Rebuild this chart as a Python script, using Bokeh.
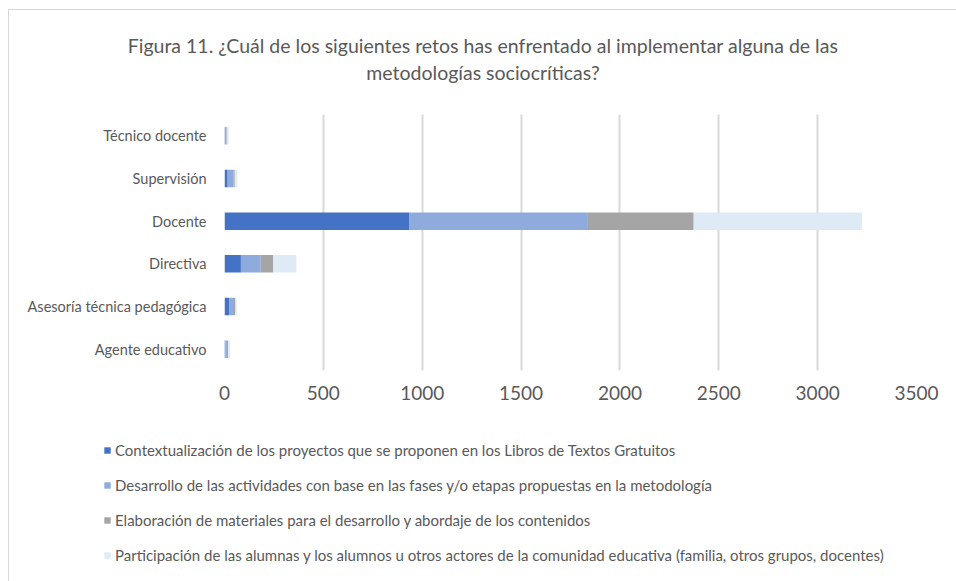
from bokeh.plotting import figure
from bokeh.layouts import column
from bokeh.models import Range1d, FactorRange, Legend, LegendItem, SingleIntervalTicker, Label
from bokeh.embed import file_html
from bokeh.resources import INLINE

categories = ["Agente educativo", "Asesoría técnica pedagógica", "Directiva",
              "Docente", "Supervisión", "Técnico docente"]
series_names = [
    "Contextualización de los proyectos que se proponen en los Libros de Textos Gratuitos",
    "Desarrollo de las actividades con base en las fases y/o etapas propuestas en la metodología",
    "Elaboración de materiales para el desarrollo y abordaje de los contenidos",
    "Participación de las alumnas y los alumnos u otros actores de la comunidad educativa (familia, otros grupos, docentes)",
]
contextualizacion = [4, 23, 83, 936, 16, 2]
desarrollo = [8, 25, 100, 898, 29, 7]
elaboracion = [6, 7, 64, 539, 7, 3]
participacion = [10, 7, 116, 851, 13, 10]
colors = ["#4472C4", "#8FAADC", "#A5A5A5", "#DEEBF7"]
x_ticks_interval = 500
x_max = 3500
title_lines = ["Figura 11. ¿Cuál de los siguientes retos has enfrentado al implementar alguna de las",
               "metodologías sociocríticas?"]

keys = ["s0", "s1", "s2", "s3"]
data = {"cat": categories, "s0": contextualizacion, "s1": desarrollo,
        "s2": elaboracion, "s3": participacion}

TXT = "#595959"
FONT = "Lato"
W = 947

xr = Range1d(0, x_max)
yr = FactorRange(*categories, range_padding=0)

# ---- title strip
p0 = figure(width=W, height=104, output_backend="svg", toolbar_location=None,
            x_axis_type=None, y_axis_type=None,
            min_border=0, min_border_left=0, min_border_right=0,
            min_border_top=0, min_border_bottom=0)
p0.frame_align = False
p0.grid.visible = False
p0.outline_line_color = None
for txt, ypos in zip(title_lines, [69, 42]):
    p0.add_layout(Label(x=473.5, y=ypos, x_units="screen", y_units="screen",
                        text=txt, text_align="center", text_baseline="middle",
                        text_font=FONT, text_font_size="19.5px", text_color=TXT))

# ---- main chart
p = figure(width=W, height=301, output_backend="svg", toolbar_location=None,
           y_range=yr, x_range=xr,
           min_border_left=215, min_border_right=40, min_border_top=0,
           min_border_bottom=45)
p.frame_align = False

renderers = p.hbar_stack(keys, y="cat", height=0.41, color=colors, source=data,
                         line_color=None)

p.outline_line_color = None
p.xaxis.ticker = SingleIntervalTicker(interval=x_ticks_interval)
p.xaxis.axis_line_color = None
p.xaxis.major_tick_line_color = None
p.xaxis.minor_tick_line_color = None
p.xaxis.major_label_text_font = FONT
p.xaxis.major_label_text_font_size = "19px"
p.xaxis.major_label_text_color = TXT
p.xaxis.major_label_standoff = 9

p.yaxis.axis_line_color = None
p.yaxis.major_tick_line_color = None
p.yaxis.major_label_text_font = FONT
p.yaxis.major_label_text_font_size = "14.5px"
p.yaxis.major_label_text_color = TXT
p.yaxis.major_label_standoff = 12

p.ygrid.grid_line_color = None
p.xgrid.grid_line_color = "#D9D9D9"
p.xgrid.grid_line_width = 2

# ---- legend strip (hidden copies of the series supply the swatches)
p2 = figure(width=W, height=166, output_backend="svg", toolbar_location=None,
            x_range=xr, y_range=yr, x_axis_type=None, y_axis_type=None,
            min_border=0, min_border_left=0, min_border_right=0,
            min_border_top=0, min_border_bottom=0)
p2.frame_align = False
p2.grid.visible = False
p2.outline_line_color = None
legend_renderers = p2.hbar_stack(keys, y="cat", height=0.41, color=colors,
                                 source=data, line_color=None)
for r in legend_renderers:
    r.visible = False

items = [LegendItem(label=n, renderers=[r]) for n, r in zip(series_names, legend_renderers)]
legend = Legend(items=items, location=(94, 16), orientation="vertical",
                glyph_width=8, glyph_height=8, label_height=20, spacing=15,
                label_text_font=FONT, label_text_font_size="15px",
                label_text_color=TXT, label_standoff=4,
                background_fill_alpha=0, border_line_color=None,
                margin=0, padding=0, click_policy="none")
p2.add_layout(legend, "center")

layout = column(p0, p, p2, spacing=0)
layout.styles = {"margin-left": "8px", "margin-top": "9px",
                 "border-left": "1px solid #D9D9D9", "border-top": "1px solid #D9D9D9"}

open("out.html", "w").write(file_html(layout, INLINE))
